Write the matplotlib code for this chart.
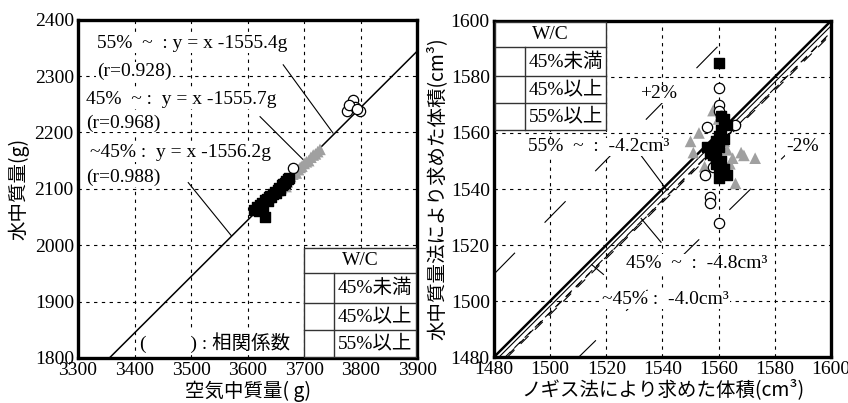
import numpy as np
import matplotlib
matplotlib.use("Agg")
import matplotlib.pyplot as plt

SERIF = ["Liberation Serif", "Noto Sans CJK JP", "DejaVu Sans"]
GOTH = ["Noto Sans CJK JP", "DejaVu Sans"]
plt.rcParams.update({"font.family": SERIF, "font.size": 14})

# ---- left panel: mass in air vs mass in water (g) ----
L_SQ_X = [3612, 3616, 3620, 3622, 3626, 3628, 3630, 3634, 3636, 3640, 3642, 3645, 3648,
          3650, 3653, 3656, 3658, 3660, 3663, 3666, 3668, 3671, 3674, 3630, 3638]
L_SQ_Y = [2062, 2068, 2060, 2072, 2075, 2070, 2080, 2082, 2078, 2088, 2085, 2090, 2094,
          2092, 2098, 2102, 2097, 2106, 2108, 2110, 2114, 2118, 2120, 2050, 2086]
L_TRI_X = [3650, 3655, 3660, 3665, 3670, 3672, 3676, 3680, 3683, 3686, 3690, 3693, 3696,
           3700, 3704, 3708, 3712, 3716, 3720, 3724, 3728, 3668]
L_TRI_Y = [2092, 2098, 2102, 2110, 2112, 2118, 2122, 2126, 2130, 2128, 2134, 2138, 2140,
           2145, 2148, 2150, 2156, 2160, 2162, 2166, 2170, 2104]
L_CIR_X = [3776, 3786, 3790, 3798, 3780, 3794, 3680]
L_CIR_Y = [2238, 2258, 2246, 2238, 2248, 2242, 2137]
L_FIT_B = -1555.7

L_NOTES = ["55%  ~  : y = x -1555.4g", "45%  ~ :  y = x -1555.7g", "~45% :  y = x -1556.2g"]
L_R = ["(r=0.928)", "(r=0.968)", "(r=0.988)"]

WC_ROWS = ["45%未満", "45%以上", "55%以上"]

# ---- right panel: caliper volume vs water-mass volume (cm3) ----
R_SQ_X = [1560, 1561, 1562, 1563, 1561, 1560, 1559, 1562, 1560, 1558, 1557, 1556, 1559,
          1561, 1560, 1562, 1563, 1559, 1561, 1560, 1558]
R_SQ_Y = [1585, 1566, 1565, 1563, 1561, 1559, 1557, 1558, 1555, 1554, 1553, 1555, 1551,
          1550, 1548, 1547, 1545, 1549, 1546, 1544, 1552]
R_CIR_X = [1560, 1560, 1560, 1556, 1566, 1555, 1557, 1560, 1557, 1561, 1558]
R_CIR_Y = [1576, 1570, 1568, 1562, 1563, 1545, 1537, 1528, 1535, 1566, 1548]
R_TRI_X = [1550, 1553, 1551, 1558, 1563, 1565, 1568, 1569, 1573, 1566, 1564, 1562, 1555, 1560]
R_TRI_Y = [1557, 1560, 1553, 1568, 1554, 1551, 1553, 1552, 1551, 1542, 1549, 1557, 1548, 1565]
R_OFFSETS = [-4.0, -4.2, -4.8]
R_PCT = 0.02

fig = plt.figure(figsize=(8.48, 4.03), dpi=100)
axL = fig.add_axes([0.092, 0.112, 0.400, 0.839])
axR = fig.add_axes([0.5825, 0.114, 0.3974, 0.834])

GRID = dict(color="black", lw=0.8, ls=(0, (3, 4)), zorder=0)
BOX = dict(facecolor="white", edgecolor="none", pad=0.5)


def frame(ax, lo, hi, step):
    ax.set_xlim(lo[0], hi[0])
    ax.set_ylim(lo[1], hi[1])
    ax.set_xticks(np.arange(lo[0], hi[0] + 1, step[0]))
    ax.set_yticks(np.arange(lo[1], hi[1] + 1, step[1]))
    ax.tick_params(length=0, pad=3, labelsize=14)
    for s in ax.spines.values():
        s.set_linewidth(2.4)
    for v in ax.get_xticks()[1:-1]:
        ax.axvline(v, **GRID)
    for v in ax.get_yticks()[1:-1]:
        ax.axhline(v, **GRID)


def wc_table(ax, x0, x1, xdiv, rows_y):
    # rows_y: top, header bottom, row1 bottom, row2 bottom, bottom (axes fraction)
    t = ax.transAxes
    ax.add_patch(plt.Rectangle((x0, rows_y[-1]), x1 - x0, rows_y[0] - rows_y[-1],
                               transform=t, facecolor="white", edgecolor="#333333",
                               lw=1.0, zorder=6))
    for y in rows_y[1:-1]:
        ax.plot([x0, x1], [y, y], transform=t, color="#333333", lw=1.0, zorder=7)
    ax.plot([xdiv, xdiv], [rows_y[1], rows_y[-1]], transform=t, color="#333333",
            lw=1.0, zorder=7)
    ax.text((x0 + x1) / 2, (rows_y[0] + rows_y[1]) / 2, "W/C", transform=t,
            ha="center", va="center", fontsize=14, zorder=8)
    for i, lab in enumerate(WC_ROWS):
        ax.text((xdiv + x1) / 2, (rows_y[i + 1] + rows_y[i + 2]) / 2, lab, transform=t,
                ha="center", va="center", fontsize=14, family=SERIF, zorder=8)


# ---------- left ----------
frame(axL, (3300, 1800), (3900, 2400), (100, 100))
xs = np.array([3300, 3900])
axL.plot(xs, xs + L_FIT_B, color="black", lw=1.1, zorder=3)
axL.scatter(L_TRI_X, L_TRI_Y, marker="^", s=70, color="#a0a0a0", edgecolor="none", zorder=4)
axL.scatter(L_CIR_X, L_CIR_Y, marker="o", s=55, facecolor="white", edgecolor="black",
            lw=0.9, zorder=4)
axL.scatter(L_SQ_X, L_SQ_Y, marker="s", s=55, color="black", zorder=5)

note_xy = [(3334, 2357), (3314, 2258), (3321, 2164)]
r_xy = [(3334, 2308), (3314, 2217), (3314, 2120)]
leaders = [((3663, 2320), (3751, 2199)), ((3622, 2228), (3702, 2148)),
           ((3495, 2111), (3571, 2017))]
for (nx, ny), (rx, ry), lab, rr, (p, q) in zip(note_xy, r_xy, L_NOTES, L_R, leaders):
    axL.text(nx, ny, lab, ha="left", va="center", fontsize=14, bbox=BOX, zorder=6)
    axL.text(rx, ry, rr, ha="left", va="center", fontsize=14, bbox=BOX, zorder=6)
    axL.plot([p[0], q[0]], [p[1], q[1]], color="black", lw=0.8, zorder=3)
axL.text(0.183, 0.046, "(         ) : 相関係数", transform=axL.transAxes, ha="left",
         va="center", fontsize=14, family=SERIF, bbox=BOX, zorder=6)
wc_table(axL, 0.667, 0.997, 0.755, [0.325, 0.251, 0.163, 0.083, 0.004])
axL.set_xlabel("空気中質量( g)", family=GOTH, fontsize=14, labelpad=1)
axL.set_ylabel("水中質量(g)", family=GOTH, fontsize=14, labelpad=4)

# ---------- right ----------
frame(axR, (1480, 1480), (1600, 1600), (20, 20))
xr = np.array([1480, 1600])
axR.plot(xr, xr * (1 + R_PCT), color="black", lw=0.8, ls=(0, (27, 38)), zorder=2)
axR.plot(xr, xr * (1 - R_PCT), color="black", lw=0.8, ls=(10, (27, 38)), zorder=2)
axR.plot(xr, xr, color="black", lw=1.8, zorder=3)
axR.plot(xr, xr - 1.8, color="black", lw=0.8, zorder=3)
dash = [(0, (8, 5)), (4, (6, 6)), (2, (10, 8))]
for off, ls in zip(R_OFFSETS, dash):
    axR.plot(xr, xr + off, color="black", lw=0.8, ls=ls, zorder=3)

axR.scatter(R_TRI_X, R_TRI_Y, marker="^", s=70, color="#a0a0a0", edgecolor="none", zorder=4)
axR.scatter(R_CIR_X, R_CIR_Y, marker="o", s=55, facecolor="white", edgecolor="black",
            lw=0.9, zorder=4)
axR.scatter(R_SQ_X, R_SQ_Y, marker="s", s=55, color="black", zorder=5)

axR.text(1532, 1574, "+2%", ha="left", va="center", fontsize=14, bbox=BOX, zorder=6)
axR.text(1584, 1555, "-2%", ha="left", va="center", fontsize=14, bbox=BOX, zorder=6)
axR.text(1492, 1555, "55%  ~  :  -4.2cm³", ha="left", va="center", fontsize=14,
         bbox=BOX, zorder=6)
axR.text(1527, 1513.5, "45%  ~  :  -4.8cm³", ha="left", va="center", fontsize=14,
         bbox=BOX, zorder=6)
axR.text(1518.5, 1500.4, "~45% :  -4.0cm³", ha="left", va="center", fontsize=14,
         bbox=BOX, zorder=6)
for p, q in [((1531.6, 1553), (1541.6, 1539.6)), ((1532.4, 1529.5), (1539.5, 1521)),
             ((1514.8, 1513), (1519, 1509.5))]:
    axR.plot([p[0], q[0]], [p[1], q[1]], color="black", lw=0.8, zorder=3)
wc_table(axR, 0.004, 0.333, 0.092, [0.997, 0.923, 0.836, 0.756, 0.676])
axR.set_xlabel("ノギス法により求めた体積(cm³)", family=GOTH, fontsize=14, labelpad=1)
axR.set_ylabel("水中質量法により求めた体積(cm³)", family=GOTH, fontsize=14, labelpad=2)

fig.savefig("out.png", dpi=100)
